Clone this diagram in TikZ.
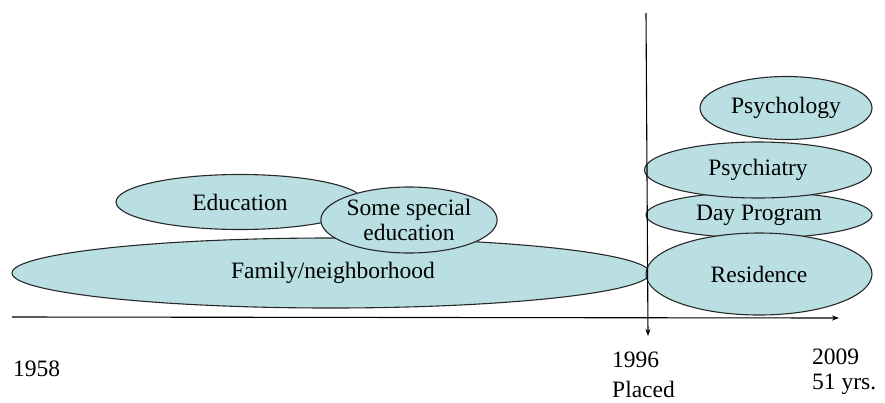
\documentclass[tikz,border=0pt]{standalone}
\usepackage{fontspec}
\setmainfont{Liberation Serif}
\usetikzlibrary{shapes.geometric,arrows.meta}
\definecolor{bubble}{RGB}{185,223,227}
\definecolor{edge}{RGB}{40,40,40}
\begin{document}
\begin{tikzpicture}[x=1pt,y=-1pt,
  every node/.style={font=\rmfamily\fontsize{23.5}{27}\selectfont, inner sep=0pt},
  bubble/.style={ellipse, draw=edge, line width=1.1pt, fill=bubble, align=center},
  axis/.style={draw=black, line width=1.1pt, -{Stealth[length=7pt,width=5pt]}},
  yearlabel/.style={align=left, anchor=base west}
]
\useasboundingbox (0,0) rectangle (885,402);
% activities before placement
\node[bubble, minimum width=638pt, minimum height=70pt] (family) at (331,273) {};
\node at (333,273) {Family/neighborhood};
\node[bubble, minimum width=248pt, minimum height=55pt] (edu) at (240,202) {Education};
\node[bubble, minimum width=168pt, minimum height=66pt] (special) at (409,220)
  {Some special\\[-2pt]education};
% services after placement
\node[bubble, minimum width=172pt, minimum height=63pt] (psychology) at (786,108) {Psychology};
\node[bubble, minimum width=226pt, minimum height=46pt] (dayprog) at (759,215) {Day Program};
\node[bubble, minimum width=226pt, minimum height=82pt] (residence) at (759,274) {Residence};
\node[bubble, minimum width=227pt, minimum height=56pt] (psychiatry) at (758,170) {Psychiatry};
% time axis and placement marker
\coordinate (tstart) at (12,317);
\coordinate (tend) at (839,318);
\coordinate (ptop) at (646,13);
\coordinate (pbot) at (648,336);
\draw[axis] (tstart) -- (tend);
\draw[axis] (ptop) -- (pbot);
% year labels
\node[yearlabel] (y1958) at (13,376) {1958};
\node[yearlabel] (y1996) at (612,367) {1996};
\node[yearlabel] (placed) at (612,397) {Placed};
\node[yearlabel] (y2009) at (812,364) {2009};
\node[yearlabel] (yrs) at (812,389) {51 yrs.};
\end{tikzpicture}
\end{document}
